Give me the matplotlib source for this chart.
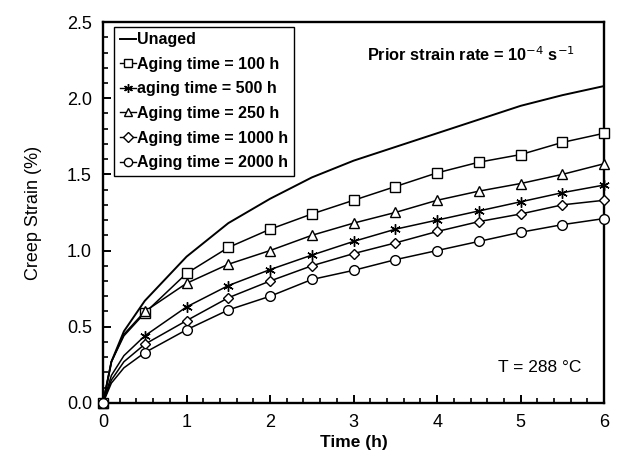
import numpy as np
import matplotlib
matplotlib.use('Agg')
import matplotlib.pyplot as plt
from matplotlib.ticker import MultipleLocator, FormatStrFormatter

plt.rcParams['font.family'] = ['Liberation Sans', 'DejaVu Sans']

# Data ------------------------------------------------------------------------
# symbols every 0.5 h; two early points give the steep start of each curve
t_mark = [0, 0.5, 1, 1.5, 2, 2.5, 3, 3.5, 4, 4.5, 5, 5.5, 6]
t_line = [0, 0.1, 0.25, 0.5, 1, 1.5, 2, 2.5, 3, 3.5, 4, 4.5, 5, 5.5, 6]

unaged = [0, 0.27, 0.47, 0.67, 0.96, 1.18, 1.34, 1.48, 1.59, 1.68, 1.77, 1.86, 1.95, 2.02, 2.08]
aged_100 = [0, 0.27, 0.44, 0.59, 0.85, 1.02, 1.14, 1.24, 1.33, 1.42, 1.51, 1.58, 1.63, 1.71, 1.77]
aged_500 = [0, 0.18, 0.31, 0.44, 0.63, 0.77, 0.875, 0.97, 1.06, 1.14, 1.20, 1.26, 1.32, 1.38, 1.43]
aged_250 = [0, 0.27, 0.45, 0.60, 0.785, 0.91, 1.00, 1.10, 1.18, 1.25, 1.33, 1.39, 1.44, 1.50, 1.57]
aged_1000 = [0, 0.15, 0.27, 0.385, 0.54, 0.69, 0.80, 0.90, 0.98, 1.05, 1.125, 1.19, 1.24, 1.30, 1.33]
aged_2000 = [0, 0.13, 0.23, 0.33, 0.48, 0.61, 0.70, 0.81, 0.87, 0.94, 1.00, 1.06, 1.12, 1.17, 1.21]

ASTER = (6, 2, 0)  # asterisk-like symbol used for the 500 h curve
series = [
    ('Unaged', unaged, None),
    ('Aging time = 100 h', aged_100, 's'),
    ('aging time = 500 h', aged_500, ASTER),
    ('Aging time = 250 h', aged_250, '^'),
    ('Aging time = 1000 h', aged_1000, 'D'),
    ('Aging time = 2000 h', aged_2000, 'o'),
]
msizes = {'s': 6.8, ASTER: 7.5, '^': 7, 'D': 5.5, 'o': 7}

# Plot -------------------------------------------------------------------------
fig = plt.figure(figsize=(6.38, 4.69), dpi=100)
ax = fig.add_axes([0.1615, 0.141, 0.7855, 0.812])  # left, bottom, width, height

for label, vals, mk in series:
    vals = np.array(vals)
    if mk is None:
        ax.plot(t_line, vals, '-', color='black', lw=1.4, label=label)
        continue
    idx = [t_line.index(t) for t in t_mark]
    ax.plot(t_line, vals, '-', color='black', lw=1.1, zorder=3)
    ax.plot(t_mark, vals[idx], linestyle='none', marker=mk, ms=msizes[mk],
            mfc='white', mec='black', mew=1.0, zorder=4, clip_on=False)
    # legend entry: short line with the symbol
    ax.plot([], [], '-', color='black', lw=1.0, marker=mk, ms=msizes[mk] * 0.85,
            mfc='white', mec='black', mew=1.0, label=label)

ax.set_xlim(0, 6)
ax.set_ylim(0, 2.5)
ax.xaxis.set_major_locator(MultipleLocator(1))
ax.xaxis.set_minor_locator(MultipleLocator(0.2))
ax.yaxis.set_major_locator(MultipleLocator(0.5))
ax.yaxis.set_minor_locator(MultipleLocator(0.1))
ax.yaxis.set_major_formatter(FormatStrFormatter('%.1f'))
ax.tick_params(which='both', direction='in', top=False, right=False, labelsize=13, pad=8)
ax.tick_params(which='major', length=6, width=1.4)
ax.tick_params(which='minor', length=3.5, width=1.2)
for sp in ax.spines.values():
    sp.set_linewidth(1.7)

ax.set_xlabel('Time (h)', fontsize=12.5, fontweight='bold', labelpad=3)
ax.set_ylabel('Creep Strain (%)', fontsize=13, labelpad=18)

lgd = ax.legend(loc='upper left', bbox_to_anchor=(0.022, 0.988), fontsize=11.5,
                handlelength=1.0, handletextpad=0.1, labelspacing=0.6,
                borderpad=0.35, borderaxespad=0.0, fancybox=False, framealpha=1)
lgd.get_frame().set_edgecolor('black')
lgd.get_frame().set_linewidth(1.0)
for txt in lgd.get_texts():
    txt.set_fontweight('bold')

ax.text(0.941, 0.914, r'Prior strain rate = 10$^{-4}$ s$^{-1}$',
        transform=ax.transAxes, ha='right', va='center', fontsize=11.8, fontweight='bold')
ax.text(0.955, 0.092, 'T = 288 \u00b0C', transform=ax.transAxes, ha='right',
        va='center', fontsize=12.5)

fig.savefig('out.png', dpi=100)
